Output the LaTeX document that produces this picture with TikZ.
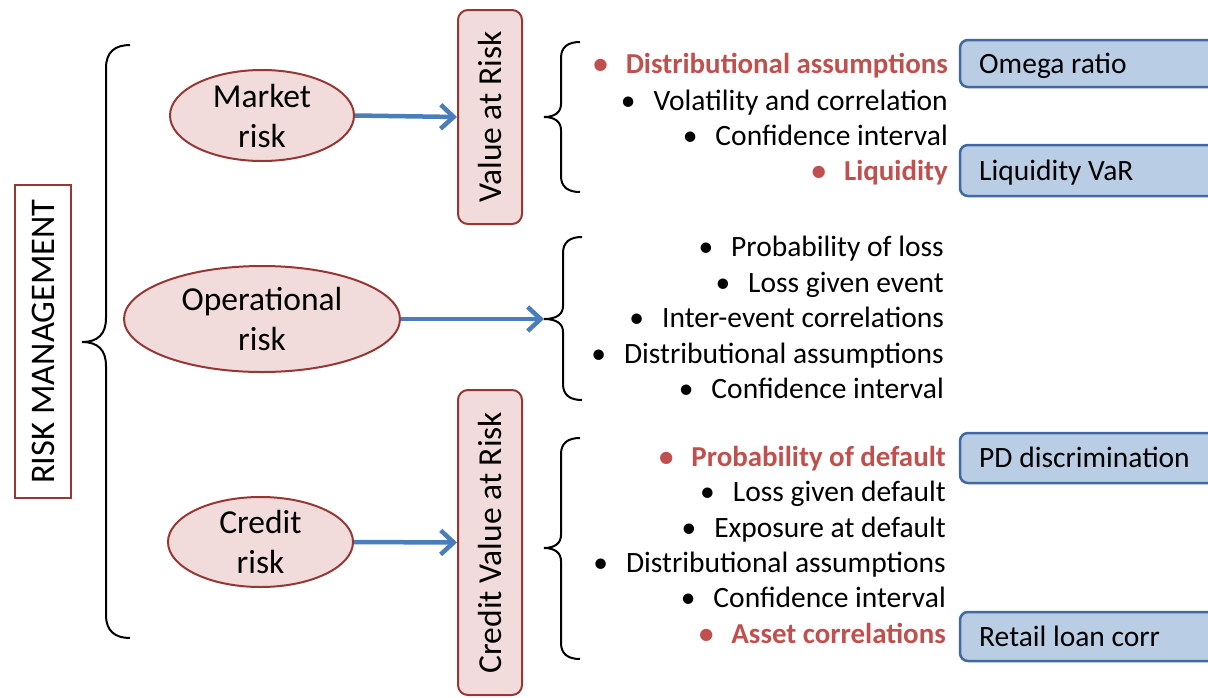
\documentclass[tikz,border=0pt]{standalone}
\usepackage{fontspec}
\setmainfont{Carlito}
\usetikzlibrary{shapes.geometric,arrows.meta}
\definecolor{pinkfill}{RGB}{242,220,219}
\definecolor{darkred}{RGB}{149,55,53}
\definecolor{redtxt}{RGB}{192,80,77}
\definecolor{bluefill}{RGB}{185,205,229}
\definecolor{blueline}{RGB}{65,104,160}
\definecolor{arrowblue}{RGB}{74,126,187}
\tikzset{
  riskbox/.style={draw=darkred, line width=1.5pt, fill=white, rotate=90, minimum width=313pt, minimum height=56pt, inner sep=0pt, font=\fontsize{34.5}{40}\selectfont},
  oval/.style={ellipse, draw=darkred, line width=2pt, fill=pinkfill, inner sep=0pt, align=center, font=\fontsize{33.5}{40}\selectfont},
  varbox/.style={draw=darkred, line width=2pt, fill=pinkfill, rounded corners=10pt, rotate=90, minimum height=64pt, inner sep=0pt, font=\fontsize{33.5}{40}\selectfont},
  flow/.style={draw=arrowblue, line width=4.5pt, -{Straight Barb[length=13pt,width=24pt]}},
  brace/.style={draw=black, line width=2pt},
  item/.style={anchor=mid east, inner sep=0pt, font=\fontsize{29.5}{34}\selectfont},
  hot/.style={item, text=redtxt, font=\fontsize{28.9}{34}\selectfont\bfseries},
  bluebox/.style={draw=blueline, line width=2.5pt, fill=bluefill, rounded corners=8pt},
  bluetxt/.style={anchor=mid west, inner sep=0pt, font=\fontsize{29.5}{34}\selectfont}
}
\newcommand{\bul}{\textbullet\hspace{18pt}}
\begin{document}
\begin{tikzpicture}[x=1pt,y=-1pt]
\useasboundingbox (0,0) rectangle (1208,697);
\clip (0,0) rectangle (1208,697);

% left title box
\node[riskbox] (rm) at (43,341.5) {RISK MANAGEMENT};

% big brace
\draw[brace] (130,45) .. controls (115,45) and (106,52) .. (106,68) -- (106,318)
  .. controls (106,334) and (98,342) .. (82,342)
  .. controls (98,342) and (106,350) .. (106,366) -- (106,615)
  .. controls (106,631) and (115,638) .. (130,638);

% ellipses
\node[oval, minimum width=184pt, minimum height=91pt] (market) at (262,115.5) {Market\\risk};
\node[oval, minimum width=276pt, minimum height=106pt] (oper) at (262,319) {Operational\\risk};
\node[oval, minimum width=185pt, minimum height=90pt] (credit) at (260.5,542) {Credit\\risk};

% rotated boxes
\node[varbox, minimum width=214pt] (var) at (490,117) {Value at Risk};
\node[varbox, minimum width=305pt] (cvar) at (490,542.5) {Credit Value at Risk};

% right braces
\coordinate (tipa) at (544,117);
\coordinate (tipb) at (544,319);
\coordinate (tipc) at (544,548);
\draw[brace] (580,42) .. controls (568,42) and (561,47) .. (561,58) -- (561,104)
  .. controls (561,112) and (555,117) .. (tipa)
  .. controls (555,117) and (561,122) .. (561,130) -- (561,176)
  .. controls (561,187) and (568,192) .. (580,192);
\draw[brace] (582,237) .. controls (570,237) and (563,242) .. (563,253) -- (563,306)
  .. controls (563,314) and (557,319) .. (tipb)
  .. controls (557,319) and (563,324) .. (563,332) -- (563,384)
  .. controls (563,395) and (570,400) .. (582,400);
\draw[brace] (580,438) .. controls (568,438) and (561,443) .. (561,454) -- (561,535)
  .. controls (561,543) and (555,548) .. (tipc)
  .. controls (555,548) and (561,553) .. (561,561) -- (561,643)
  .. controls (561,654) and (568,659) .. (580,659);

% arrows
\draw[flow] (market.east) -- (var.north);
\draw[flow] (oper.east) -- (tipb);
\draw[flow] (credit.east) -- (cvar.north);

% block 1
\node[hot] (a1) at (948,71) {\bul Distributional assumptions};
\node[item] (a2) at (948,108) {\bul Volatility and correlation};
\node[item] (a3) at (948,143) {\bul Confidence interval};
\node[hot] (a4) at (948,178) {\bul Liquidity};

% block 2
\node[item] (b1) at (944,254) {\bul Probability of loss};
\node[item] (b2) at (944,290) {\bul Loss given event};
\node[item] (b3) at (944,325) {\bul Inter-event correlations};
\node[item] (b4) at (944,361) {\bul Distributional assumptions};
\node[item] (b5) at (944,396) {\bul Confidence interval};

% block 3
\node[hot] (c1) at (946,464) {\bul Probability of default};
\node[item] (c2) at (946,499) {\bul Loss given default};
\node[item] (c3) at (946,535) {\bul Exposure at default};
\node[item] (c4) at (946,570) {\bul Distributional assumptions};
\node[item] (c5) at (946,605) {\bul Confidence interval};
\node[hot] (c6) at (946,641) {\bul Asset correlations};

% blue boxes
\draw[bluebox] (960,40) rectangle (1225,87);
\node[bluetxt] (omega) at (979,71) {Omega ratio};
\draw[bluebox] (960,145) rectangle (1225,196);
\node[bluetxt] (liqvar) at (979,178) {Liquidity VaR};
\draw[bluebox] (960,433) rectangle (1225,483);
\node[bluetxt] (pd) at (979,465) {PD discrimination};
\draw[bluebox] (960,612) rectangle (1225,661);
\node[bluetxt] (retail) at (979,644) {Retail loan corr};
\end{tikzpicture}
\end{document}
